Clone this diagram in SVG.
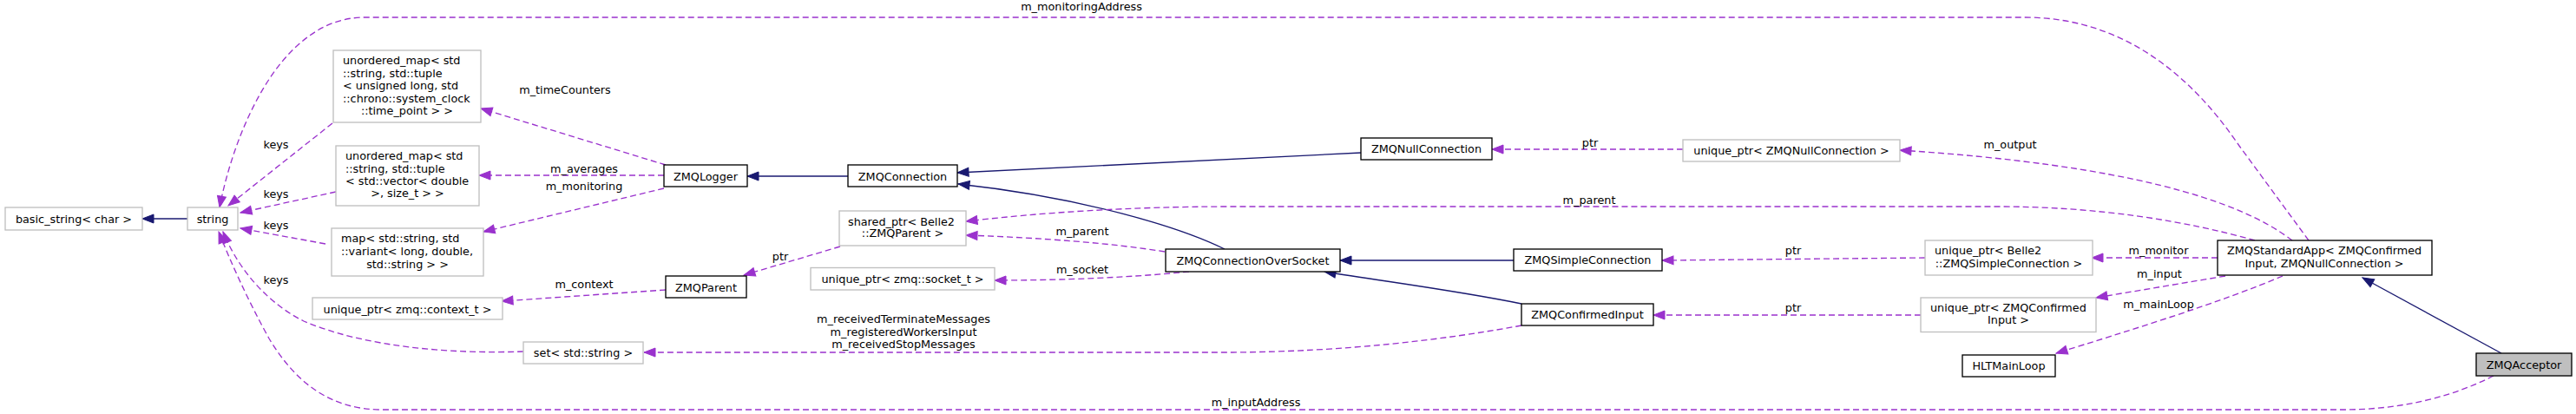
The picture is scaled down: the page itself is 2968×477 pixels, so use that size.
<svg xmlns="http://www.w3.org/2000/svg" width="2968" height="477" viewBox="0 0 2968 477">
<style>
text{font-family:"DejaVu Sans",Verdana,sans-serif;font-size:12.8px;fill:#000}
.c{text-anchor:middle}
.l{text-anchor:start}
.doc rect{fill:#fff;stroke:#000;stroke-width:1.33}
.ext rect{fill:#fff;stroke:#bfbfbf;stroke-width:1.33}
.cur rect{fill:#bfbfbf;stroke:#000;stroke-width:1.33}
.inh{fill:none;stroke:#191970;stroke-width:1.33;marker-end:url(#ai)}
.rel{fill:none;stroke:#9a32cd;stroke-width:1.33;stroke-dasharray:7,4;marker-end:url(#ap)}
</style>
<defs>
<marker id="ap" markerUnits="userSpaceOnUse" markerWidth="15" markerHeight="11" refX="13" refY="5" orient="auto" overflow="visible"><path d="M0,0 L13,5 L0,10 Z" fill="#9a32cd" stroke="#9a32cd" stroke-width="1"/></marker>
<marker id="ai" markerUnits="userSpaceOnUse" markerWidth="15" markerHeight="11" refX="13" refY="5" orient="auto" overflow="visible"><path d="M0,0 L13,5 L0,10 Z" fill="#191970" stroke="#191970" stroke-width="1"/></marker>
</defs>
<rect width="2968" height="477" fill="#fff"/>
<g id="edges">
<path class="inh" d="M216,252 L164,252"/>
<path class="inh" d="M977,203 L861,203"/>
<path class="inh" d="M1568,176 L1103,199"/>
<path class="inh" d="M1411,287 C1360,262 1250,228 1104,212"/>
<path class="inh" d="M1744,300 L1544,300"/>
<path class="inh" d="M1753,350 C1680,335 1600,325 1526,313"/>
<path class="inh" d="M2882,407 L2722,320"/>

<path class="rel" d="M2660,277 L2580,168 C2520,80 2440,20 2333,20 L420,20 C320,20 268,160 253,239"/>
<text class="c" x="1246" y="12">m_monitoringAddress</text>
<path class="rel" d="M2641,277 C2580,230 2450,190 2189,173"/>
<text class="c" x="2316" y="171">m_output</text>
<path class="rel" d="M2598,277 C2520,255 2420,238 2300,238 L1420,238 C1300,238 1200,245 1113,255"/>
<text class="c" x="1831" y="235">m_parent</text>
<path class="rel" d="M2555,297 L2410,297"/>
<text class="c" x="2487" y="292.5">m_monitor</text>
<path class="rel" d="M2564,318 L2415,343"/>
<text class="c" x="2488" y="320">m_input</text>
<path class="rel" d="M2630,318 C2560,348 2450,382 2369,407"/>
<text class="c" x="2487" y="355">m_mainLoop</text>
<path class="rel" d="M1939,172 L1719,172"/>
<text class="c" x="1832" y="169">ptr</text>
<path class="rel" d="M2218,297 L1915,300"/>
<text class="c" x="2066" y="293">ptr</text>
<path class="rel" d="M2213,363 L1905,363"/>
<text class="c" x="2066" y="359">ptr</text>
<path class="rel" d="M1753,375 C1660,392 1550,405 1420,406 L742,406"/>
<text class="c" x="1041" y="372">m_receivedTerminateMessages</text>
<text class="c" x="1041" y="386.5">m_registeredWorkersInput</text>
<text class="c" x="1041" y="401">m_receivedStopMessages</text>
<path class="rel" d="M1342,290 C1280,280 1200,274 1113,271"/>
<text class="c" x="1247" y="271">m_parent</text>
<path class="rel" d="M1370,313 C1300,320 1220,323 1146,323"/>
<text class="c" x="1247" y="315">m_socket</text>
<path class="rel" d="M968,284 L857,317"/>
<text class="c" x="899" y="299.5">ptr</text>
<path class="rel" d="M767,334 L578,347"/>
<text class="c" x="673" y="332">m_context</text>
<path class="rel" d="M765,202 L552,202"/>
<text class="c" x="673" y="198.5">m_averages</text>
<path class="rel" d="M765,217 L557,267"/>
<text class="c" x="673" y="218.5">m_monitoring</text>
<path class="rel" d="M767,190 L554,125"/>
<text class="c" x="651" y="108">m_timeCounters</text>
<path class="rel" d="M383,142 L263,237"/>
<text class="c" x="318" y="171">keys</text>
<path class="rel" d="M387,221 L277,245"/>
<text class="c" x="318" y="227.5">keys</text>
<path class="rel" d="M375,281 L277,263"/>
<text class="c" x="318" y="263.5">keys</text>
<path class="rel" d="M603,405 C520,408 420,400 350,370 C300,345 270,300 257,267"/>
<text class="c" x="318" y="326.5">keys</text>
<path class="rel" d="M2873,433 C2820,460 2760,472 2700,472 L440,472 C380,472 340,440 310,390 C285,345 265,300 252,267"/>
<text class="c" x="1447" y="467.5">m_inputAddress</text>
</g>

<g id="basic_string" class="ext"><rect x="6" y="239" width="158" height="26"/><text class="c" x="85" y="256.5">basic_string&lt; char &gt;</text></g>
<g id="string" class="ext"><rect x="216" y="239" width="58" height="26"/><text class="c" x="245" y="256.5">string</text></g>
<g id="map_timecounters" class="ext"><rect x="384" y="58" width="170" height="83"/>
<text class="l" x="395" y="73.8">unordered_map&lt; std</text>
<text class="l" x="395" y="88.5">::string, std::tuple</text>
<text class="l" x="395" y="103">&lt; unsigned long, std</text>
<text class="l" x="395" y="117.5">::chrono::system_clock</text>
<text class="c" x="469" y="132.3">::time_point &gt; &gt;</text></g>
<g id="map_averages" class="ext"><rect x="387" y="168" width="165" height="69"/>
<text class="l" x="398" y="183.8">unordered_map&lt; std</text>
<text class="l" x="398" y="198.6">::string, std::tuple</text>
<text class="l" x="398" y="213.2">&lt; std::vector&lt; double</text>
<text class="c" x="469.5" y="227.3">&gt;, size_t &gt; &gt;</text></g>
<g id="map_monitoring" class="ext"><rect x="382" y="263" width="175" height="55"/>
<text class="l" x="393" y="278.8">map&lt; std::string, std</text>
<text class="l" x="393" y="293.8">::variant&lt; long, double,</text>
<text class="c" x="469.5" y="308.5">std::string &gt; &gt;</text></g>
<g id="uptr_context" class="ext"><rect x="360" y="343" width="219" height="25"/><text class="c" x="469.5" y="360.5">unique_ptr&lt; zmq::context_t &gt;</text></g>
<g id="set_string" class="ext"><rect x="603" y="394" width="138" height="25"/><text class="c" x="672" y="411">set&lt; std::string &gt;</text></g>
<g id="ZMQLogger" class="doc"><rect x="765" y="190" width="96" height="25"/><text class="c" x="813" y="207.5">ZMQLogger</text></g>
<g id="ZMQParent" class="doc"><rect x="767" y="318" width="93" height="25"/><text class="c" x="813.5" y="335.5">ZMQParent</text></g>
<g id="sptr_parent" class="ext"><rect x="967" y="243" width="146" height="40"/>
<text class="l" x="977" y="259.5">shared_ptr&lt; Belle2</text>
<text class="c" x="1040" y="273.2">::ZMQParent &gt;</text></g>
<g id="uptr_socket" class="ext"><rect x="934" y="308.5" width="212" height="25.5"/><text class="c" x="1040" y="325.5">unique_ptr&lt; zmq::socket_t &gt;</text></g>
<g id="ZMQConnection" class="doc"><rect x="977" y="190" width="126" height="25"/><text class="c" x="1040" y="207.5">ZMQConnection</text></g>
<g id="ZMQConnectionOverSocket" class="doc"><rect x="1343" y="287" width="201" height="26"/><text class="c" x="1443.5" y="304.5">ZMQConnectionOverSocket</text></g>
<g id="ZMQNullConnection" class="doc"><rect x="1568" y="159" width="151" height="25"/><text class="c" x="1643.5" y="176">ZMQNullConnection</text></g>
<g id="uptr_null" class="ext"><rect x="1939" y="161" width="250" height="25"/><text class="c" x="2064" y="178">unique_ptr&lt; ZMQNullConnection &gt;</text></g>
<g id="ZMQSimpleConnection" class="doc"><rect x="1744" y="287" width="171" height="25"/><text class="c" x="1829.5" y="304">ZMQSimpleConnection</text></g>
<g id="ZMQConfirmedInput" class="doc"><rect x="1753" y="350" width="152" height="25"/><text class="c" x="1829" y="367">ZMQConfirmedInput</text></g>
<g id="uptr_simple" class="ext"><rect x="2218" y="277" width="193" height="40"/>
<text class="l" x="2229" y="292.8">unique_ptr&lt; Belle2</text>
<text class="c" x="2314.5" y="307.8">::ZMQSimpleConnection &gt;</text></g>
<g id="uptr_confirmed" class="ext"><rect x="2213" y="343" width="202" height="39.5"/>
<text class="l" x="2224" y="358.5">unique_ptr&lt; ZMQConfirmed</text>
<text class="c" x="2314" y="373.2">Input &gt;</text></g>
<g id="ZMQStandardApp" class="doc"><rect x="2555" y="277" width="247" height="40"/>
<text class="l" x="2566" y="292.5">ZMQStandardApp&lt; ZMQConfirmed</text>
<text class="c" x="2678" y="307.8">Input, ZMQNullConnection &gt;</text></g>
<g id="HLTMainLoop" class="doc"><rect x="2261" y="409" width="107" height="25"/><text class="c" x="2314.5" y="426">HLTMainLoop</text></g>
<g id="ZMQAcceptor" class="cur"><rect x="2853" y="407" width="110" height="26"/><text class="c" x="2908" y="424.5">ZMQAcceptor</text></g>
</svg>
